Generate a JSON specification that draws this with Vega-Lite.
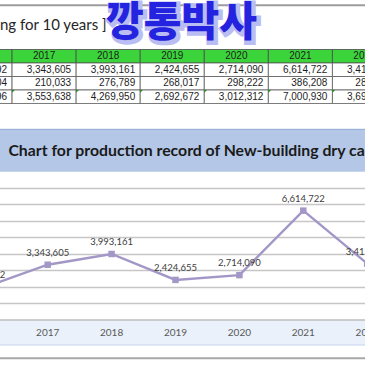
{
  "$schema": "https://vega.github.io/schema/vega-lite/v6.json",
  "width": 365,
  "height": 365,
  "padding": 0,
  "autosize": {"type": "none"},
  "background": "#ffffff",
  "config": {
    "view": {"stroke": null},
    "axis": {"grid": false, "labels": false, "ticks": false, "domain": false, "title": null},
    "text": {"font": "Lato"}
  },
  "datasets": {
    "prod": [
      {"year": 2016, "a": 1970592, "b": 213704, "total": 2184296},
      {"year": 2017, "a": 3343605, "b": 210033, "total": 3553638},
      {"year": 2018, "a": 3993161, "b": 276789, "total": 4269950},
      {"year": 2019, "a": 2424655, "b": 268017, "total": 2692672},
      {"year": 2020, "a": 2714090, "b": 298222, "total": 3012312},
      {"year": 2021, "a": 6614722, "b": 386208, "total": 7000930},
      {"year": 2022, "a": 3412578, "b": 283624, "total": 3696202}
    ],
    "banner": [{"label": "ng for 10 years ]", "brand": "깡통박사"}],
    "chartTitle": [{"label": "Chart for production record of New-building dry cargo ships"}]
  },
  "resolve": {"scale": {"x": "independent", "y": "independent"}},
  "layer": [
    {
      "data": {"name": "banner"},
      "layer": [
        {
          "mark": {"type": "rule", "color": "#9c9c9c", "strokeWidth": 2},
          "encoding": {
            "y": {"datum": 0.11, "type": "quantitative", "scale": {"domain": [0, 1], "range": [0, 47]}, "axis": null}
          }
        },
        {
          "mark": {"type": "text", "align": "left", "baseline": "alphabetic", "fontSize": 15, "color": "#262626", "font": "Lato"},
          "encoding": {
            "x": {"datum": 0, "type": "quantitative", "scale": {"domain": [0, 1], "range": [0, 365]}, "axis": null},
            "y": {"datum": 0.63, "type": "quantitative", "scale": {"domain": [0, 1], "range": [0, 47]}, "axis": null},
            "text": {"field": "label"}
          }
        },
        {
          "mark": {"type": "text", "align": "center", "baseline": "alphabetic", "fontSize": 41, "fontWeight": 900, "font": "Noto Sans CJK KR", "color": "#b9bdf2", "stroke": "#b9bdf2", "strokeWidth": 5, "dx": 2, "dy": 2},
          "encoding": {
            "x": {"datum": 0.497, "type": "quantitative", "scale": {"domain": [0, 1], "range": [0, 365]}, "axis": null},
            "y": {"datum": 0.77, "type": "quantitative", "scale": {"domain": [0, 1], "range": [0, 47]}, "axis": null},
            "text": {"field": "brand"}
          }
        },
        {
          "mark": {"type": "text", "align": "center", "baseline": "alphabetic", "fontSize": 41, "fontWeight": 900, "font": "Noto Sans CJK KR", "color": "#2424e0"},
          "encoding": {
            "x": {"datum": 0.497, "type": "quantitative", "scale": {"domain": [0, 1], "range": [0, 365]}, "axis": null},
            "y": {"datum": 0.77, "type": "quantitative", "scale": {"domain": [0, 1], "range": [0, 47]}, "axis": null},
            "text": {"field": "brand"}
          }
        }
      ]
    },
    {
      "data": {"name": "prod"},
      "layer": [
        {
          "mark": {"type": "rect", "fill": "#3bd43b", "stroke": "#4a4a4a", "strokeWidth": 0.8},
          "encoding": {
            "x": {"field": "year", "type": "ordinal", "scale": {"domain": [2016, 2017, 2018, 2019, 2020, 2021, 2022], "range": [-52, 396.5], "paddingInner": 0, "paddingOuter": 0}, "axis": null},
            "y": {"datum": "year", "type": "nominal", "scale": {"domain": ["year", "a", "b", "total"], "range": [49.5, 103.5], "paddingInner": 0, "paddingOuter": 0}, "axis": null}
          }
        },
        {
          "transform": [{"fold": ["a", "b", "total"], "as": ["row", "value"]}],
          "mark": {"type": "rect", "fill": "#ffffff", "stroke": "#5a5a5a", "strokeWidth": 0.8},
          "encoding": {
            "x": {"field": "year", "type": "ordinal", "axis": null},
            "y": {"field": "row", "type": "nominal", "axis": null}
          }
        },
        {
          "mark": {"type": "text", "align": "center", "baseline": "middle", "fontSize": 10, "font": "Liberation Sans", "color": "#1e1e1e"},
          "encoding": {
            "x": {"field": "year", "type": "ordinal", "axis": null},
            "y": {"datum": "year", "type": "nominal", "axis": null},
            "text": {"field": "year", "type": "ordinal"}
          }
        },
        {
          "transform": [{"fold": ["a", "b", "total"], "as": ["row", "value"]}],
          "mark": {"type": "text", "align": "right", "baseline": "middle", "fontSize": 10, "font": "Liberation Sans", "color": "#1e1e1e", "dx": -5},
          "encoding": {
            "x": {"field": "year", "type": "ordinal", "bandPosition": 1, "axis": null},
            "y": {"field": "row", "type": "nominal", "axis": null},
            "text": {"field": "value", "type": "quantitative", "format": ","},
            "fontWeight": {"condition": {"test": "datum.row === 'total'", "value": "bold"}, "value": "normal"}
          }
        },
        {
          "mark": {"type": "point", "shape": "M0,0L1,0L0,1Z", "filled": true, "size": 30, "color": "#1f8a1f", "opacity": 1},
          "encoding": {
            "x": {"field": "year", "type": "ordinal", "bandPosition": 0, "axis": null},
            "y": {"datum": "total", "type": "nominal", "bandPosition": 0, "axis": null}
          }
        }
      ]
    },
    {
      "data": {"name": "chartTitle"},
      "layer": [
        {
          "mark": {"type": "rect", "fill": "#b4c7e7"},
          "encoding": {
            "y": {"datum": 0, "type": "quantitative", "scale": {"domain": [0, 1], "range": [171.7, 129.3]}, "axis": null},
            "y2": {"datum": 1}
          }
        },
        {
          "mark": {"type": "rule", "color": "#8fa9d6", "strokeWidth": 1},
          "encoding": {
            "y": {"datum": 1, "type": "quantitative", "axis": null}
          }
        },
        {
          "mark": {"type": "text", "align": "left", "baseline": "middle", "fontSize": 15.8, "fontWeight": "bold", "font": "Lato", "color": "#1a1a1a"},
          "encoding": {
            "x": {"datum": 0.023, "type": "quantitative", "scale": {"domain": [0, 1], "range": [0, 365]}, "axis": null},
            "y": {"datum": 0.5, "type": "quantitative", "axis": null},
            "text": {"field": "label"}
          }
        }
      ]
    },
    {
      "data": {"name": "prod"},
      "encoding": {
        "x": {"field": "year", "type": "ordinal", "scale": {"type": "point", "domain": [2016, 2017, 2018, 2019, 2020, 2021, 2022], "range": [-16.2, 367.2], "padding": 0}, "axis": null},
        "y": {"field": "a", "type": "quantitative", "scale": {"domain": [0, 9000000], "range": [320, 171.2], "nice": false, "zero": true},
              "axis": {"grid": true, "values": [1000000, 2000000, 3000000, 4000000, 5000000, 6000000, 7000000, 8000000], "gridColor": "#c6c6c6", "gridWidth": 1.3, "labels": false, "ticks": false, "domain": false, "title": null}}
      },
      "layer": [
        {"mark": {"type": "line", "color": "#a297c6", "strokeWidth": 2.4}},
        {"mark": {"type": "point", "shape": "square", "filled": true, "size": 42, "color": "#a297c6", "opacity": 1}},
        {
          "mark": {"type": "text", "align": "center", "baseline": "middle", "dy": -12, "fontSize": 9.5, "font": "Lato", "color": "#404040"},
          "encoding": {"text": {"field": "a", "type": "quantitative", "format": ","}}
        }
      ]
    },
    {
      "data": {"values": [{"band": "axis"}]},
      "layer": [
        {
          "mark": {"type": "rect", "fill": "#eaf1fb"},
          "encoding": {
            "y": {"datum": 0, "type": "quantitative", "scale": {"domain": [0, 1], "range": [345, 320]}, "axis": null},
            "y2": {"datum": 1}
          }
        },
        {
          "mark": {"type": "rule", "color": "#bdbdbd", "strokeWidth": 1.5},
          "encoding": {"y": {"datum": 1, "type": "quantitative", "axis": null}}
        },
        {
          "mark": {"type": "rule", "color": "#c5d3ea", "strokeWidth": 1.2},
          "encoding": {"y": {"datum": 0, "type": "quantitative", "axis": null}}
        },
        {
          "mark": {"type": "rule", "color": "#a8a8a8", "strokeWidth": 2},
          "encoding": {"y": {"datum": -0.53, "type": "quantitative", "axis": null}}
        }
      ]
    },
    {
      "data": {"name": "prod"},
      "mark": {"type": "text", "align": "center", "baseline": "middle", "fontSize": 10, "font": "Lato", "color": "#595959"},
      "encoding": {
        "x": {"field": "year", "type": "ordinal", "scale": {"type": "point", "domain": [2016, 2017, 2018, 2019, 2020, 2021, 2022], "range": [-16.2, 367.2], "padding": 0}, "axis": null},
        "y": {"datum": 0.5, "type": "quantitative", "scale": {"domain": [0, 1], "range": [345, 320]}, "axis": null},
        "text": {"field": "year", "type": "ordinal"}
      }
    }
  ]
}
